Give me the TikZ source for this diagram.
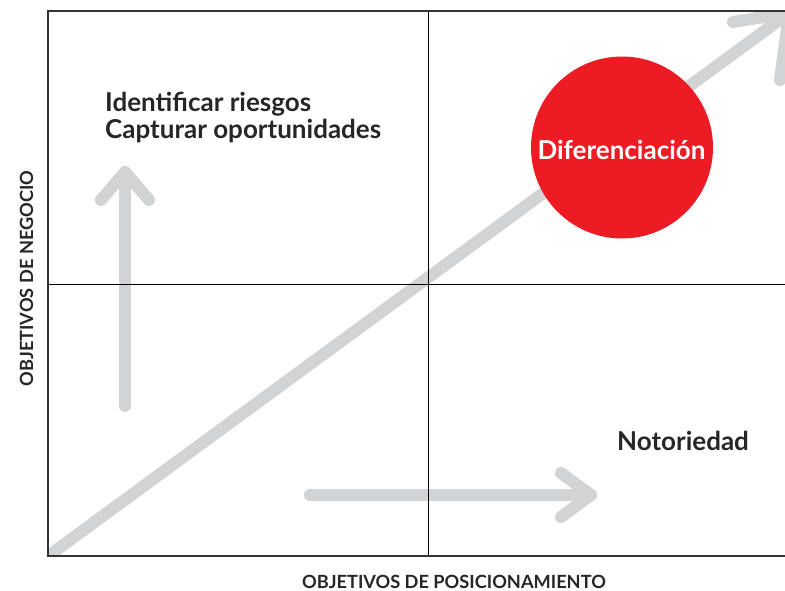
\documentclass[tikz,border=0pt]{standalone}
\usepackage{fontspec}
\setmainfont{Lato}
\definecolor{arrowgray}{HTML}{D1D3D4}
\definecolor{framegray}{HTML}{333333}
\definecolor{circred}{HTML}{ED1C24}
\tikzset{
  garrow/.style={draw=arrowgray, line width=12pt, line cap=round, line join=round},
  framel/.style={draw=framegray, line width=1.6pt},
  innerl/.style={draw=black, line width=0.8pt},
  lbl/.style={anchor=base west, inner sep=0pt, font=\bfseries\fontsize{26}{30}\selectfont, text=black!85},
  axlbl/.style={inner sep=0pt, font=\bfseries\fontsize{18.2}{20}\selectfont, text=black!85}
}
\begin{document}
\begin{tikzpicture}[x=1pt,y=-1pt]
\useasboundingbox (0,0) rectangle (785,591);
% coordinates
\coordinate (tl) at (48,11);
\coordinate (tr) at (785,11);
\coordinate (bl) at (48,556);
\coordinate (br) at (785,556);
\coordinate (mt) at (428,11);
\coordinate (mb) at (428,556);
\coordinate (ml) at (48,284);
\coordinate (mr) at (785,284);
% diagonal arrow
\coordinate (dstart) at (38,563.5);
\coordinate (dtip) at (789,13);
\coordinate (db1) at (733,22);
\coordinate (db2) at (780,80);
\begin{scope}
\clip (48,11) rectangle (785,556);
\draw[garrow, line cap=butt] (dstart) -- (dtip);
\draw[garrow] (db1) -- (dtip) -- (db2);
\end{scope}
% vertical arrow
\coordinate (vs) at (125,406);
\coordinate (vt) at (125,172);
\coordinate (vb1) at (101,200);
\coordinate (vb2) at (149,200);
\draw[garrow] (vs) -- (vt);
\draw[garrow] (vb1) -- (vt) -- (vb2);
% horizontal arrow
\coordinate (hs) at (310,495);
\coordinate (ht) at (591,495);
\coordinate (hb1) at (561,473);
\coordinate (hb2) at (561,517);
\draw[garrow] (hs) -- (ht);
\draw[garrow] (hb1) -- (ht) -- (hb2);
% frame and quadrant lines
\draw[innerl] (mt) -- (mb);
\draw[innerl] (ml) -- (mr);
\draw[framel] (tr) -- (tl) -- (bl) -- (br);
% circle
\node[circle, fill=circred, minimum size=182pt, inner sep=0pt] (circ) at (622,147.5) {};
\node[anchor=base, inner sep=0pt, text=white, font=\bfseries\fontsize{26}{30}\selectfont] (dif) at (621.5,160) {Diferenciación};
% labels
\node[lbl] (l1) at (105,112) {Identificar riesgos};
\node[lbl] (l2) at (105,139) {Capturar oportunidades};
\node[lbl] (noto) at (617,450) {Notoriedad};
\node[axlbl, anchor=base] (xax) at (454,588) {OBJETIVOS DE POSICIONAMIENTO};
\node[axlbl, anchor=base, rotate=90] (yax) at (33,278.5) {OBJETIVOS DE NEGOCIO};
\end{tikzpicture}
\end{document}
